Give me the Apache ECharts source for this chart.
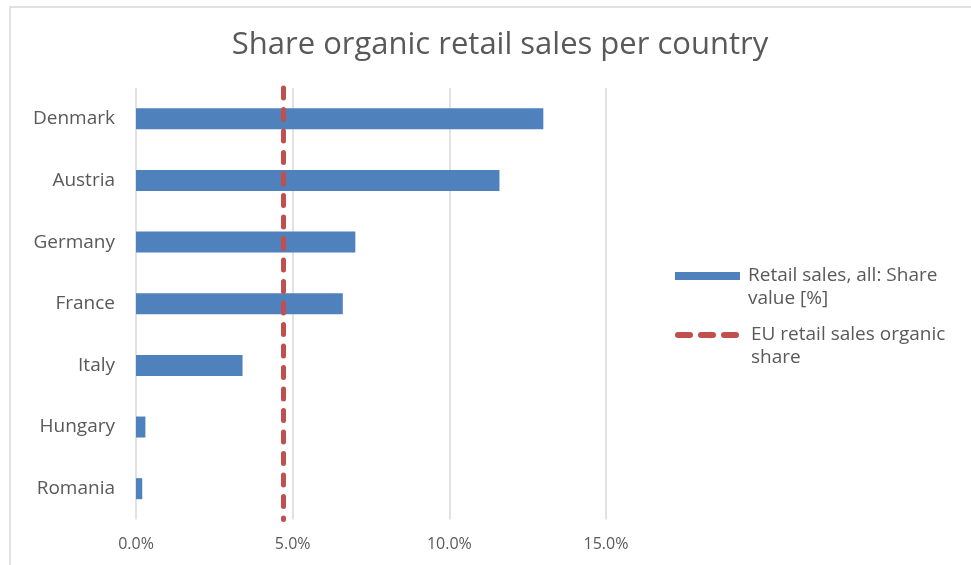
<!DOCTYPE html>
<html>
<head>
<meta charset="utf-8">
<title>Share organic retail sales per country</title>
<script src="https://cdn.jsdelivr.net/npm/echarts@6/dist/echarts.min.js"></script>
<style>
  html, body { margin: 0; padding: 0; background: #fff; }
  #chart { width: 971px; height: 565px; }
</style>
</head>
<body>
<div id="chart"></div>
<script>
// data (percent)
const countries = ['Denmark', 'Austria', 'Germany', 'France', 'Italy', 'Hungary', 'Romania'];
const shareValues = [13.0, 11.6, 7.0, 6.6, 3.4, 0.3, 0.2];
const euShare = 4.7;
const xTicks = [0, 5, 10, 15];

const barName = 'Retail sales, all: Share value [%]';
const euName = 'EU retail sales organic share';
// leading blank line keeps the first text line level with the legend icon
const legendText = {};
legendText[barName] = '\nRetail sales, all: Share\nvalue [%]';
legendText[euName] = '\nEU retail sales organic\nshare';

const font = '"Open Sans", Lato, sans-serif';
const grey = '#595959';
const euStyle = { color: '#c0504d', width: 5, type: [10, 11.5], cap: 'round' };

const chart = echarts.init(document.getElementById('chart'));

const legendBase = {
  orient: 'vertical',
  left: 675,
  padding: 0,
  itemWidth: 65,
  itemHeight: 8,
  formatter: name => legendText[name],
  textStyle: { fontFamily: font, fontSize: 19, color: grey, lineHeight: 23, padding: [0, 0, 0, 3] }
};

const option = {
  animation: false,
  title: {
    text: 'Share organic retail sales per country',
    left: 495,
    top: 25,
    textAlign: 'center',
    textStyle: { fontFamily: font, fontSize: 31, fontWeight: 'normal', color: grey }
  },
  graphic: [{
    type: 'rect',
    shape: { x: 10, y: 7, width: 980, height: 600 },
    style: { fill: 'none', stroke: '#d9d9d9', lineWidth: 1.5 },
    silent: true
  }],
  legend: [
    Object.assign({}, legendBase, {
      top: 241.5,
      data: [{ name: barName, icon: 'rect', itemStyle: { color: '#4f81bd' } }]
    }),
    Object.assign({}, legendBase, {
      top: 300.5,
      data: [{ name: euName, lineStyle: { color: '#c0504d', width: 6, type: [12, 11], cap: 'round' } }]
    })
  ],
  grid: { left: 136, right: 365, top: 88, bottom: 45.5, containLabel: false },
  xAxis: {
    type: 'value',
    min: xTicks[0],
    max: xTicks[xTicks.length - 1],
    interval: 5,
    axisLine: { show: false },
    axisTick: { show: false },
    axisLabel: {
      margin: 17,
      fontFamily: font, fontSize: 16, color: grey,
      formatter: v => v.toFixed(1) + '%'
    },
    splitLine: { lineStyle: { color: '#d9d9d9', width: 1.5 } }
  },
  yAxis: {
    type: 'category',
    data: countries,
    inverse: true,
    axisLine: { show: false },
    axisTick: { show: false },
    axisLabel: { margin: 21, fontFamily: font, fontSize: 19, color: grey }
  },
  series: [
    {
      name: barName,
      type: 'bar',
      data: shareValues,
      barWidth: 21,
      itemStyle: { color: '#4f81bd' },
      z: 2
    },
    {
      name: euName,
      type: 'line',
      data: [],
      symbol: 'none',
      lineStyle: euStyle,
      itemStyle: { color: '#c0504d' },
      markLine: {
        silent: true,
        symbol: ['none', 'none'],
        label: { show: false },
        lineStyle: euStyle,
        data: [{ xAxis: euShare }]
      },
      z: 3
    }
  ]
};

chart.setOption(option);
</script>
</body>
</html>
